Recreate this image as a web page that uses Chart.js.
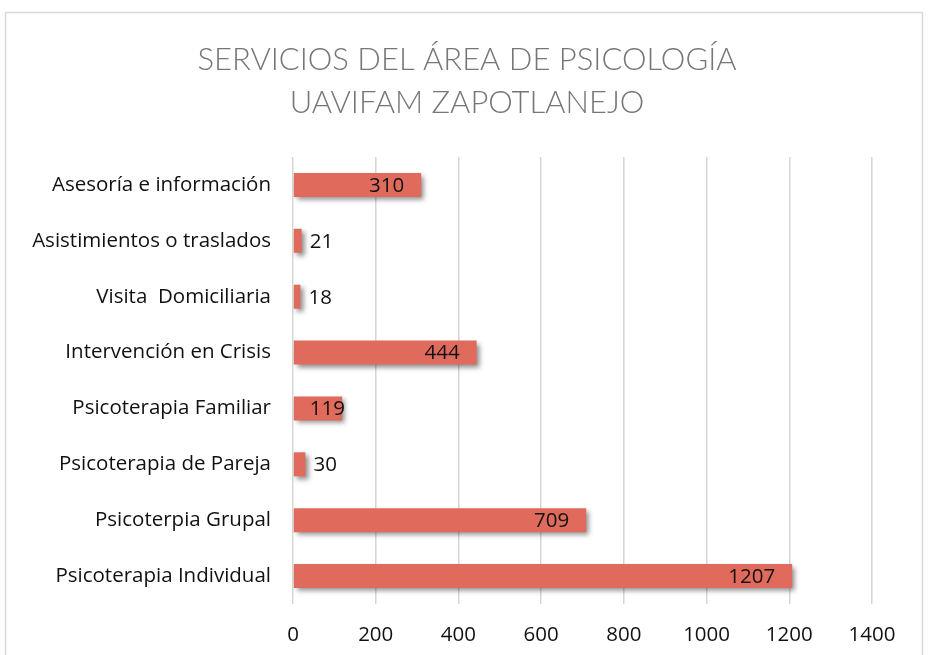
<!DOCTYPE html>
<html><head><meta charset="utf-8">
<script src="https://cdn.jsdelivr.net/npm/chart.js@4"></script>
<style>html,body{margin:0;padding:0;background:#fff}#wrap{width:928px;height:655px;position:relative}</style>
</head><body><div id="wrap"><canvas id="c" width="928" height="655"></canvas></div>
<script>
const categories = ['Asesoría e información','Asistimientos o traslados','Visita  Domiciliaria','Intervención en Crisis','Psicoterapia Familiar','Psicoterapia de Pareja','Psicoterpia Grupal','Psicoterapia Individual'];
const values = [310, 21, 18, 444, 119, 30, 709, 1207];
const titleLines = ['SERVICIOS DEL ÁREA DE PSICOLOGÍA','UAVIFAM ZAPOTLANEJO'];
const FONT = '"Open Sans", Lato, sans-serif';
const TFONT = 'Lato, "Open Sans", sans-serif';

const frame = {
  id:'frame',
  beforeDraw(chart){
    const c = chart.ctx; c.save();
    c.strokeStyle = '#d9d9d9'; c.lineWidth = 1.5;
    c.strokeRect(5.5, 12.5, 917, 700);
    c.fillStyle = '#767676'; c.font = '300 31px ' + TFONT;
    c.textAlign = 'center'; c.textBaseline = 'middle';
    titleLines.forEach((t, i) => c.fillText(t, 467, 60 + i * 43));
    c.restore();
  }
};
const shadow = {
  id:'shadow',
  beforeDatasetDraw(chart){
    const c = chart.ctx; c.save();
    c.shadowColor = 'rgba(0,0,0,0.45)'; c.shadowBlur = 5; c.shadowOffsetX = 3; c.shadowOffsetY = 3;
  },
  afterDatasetDraw(chart){ chart.ctx.restore(); }
};
const labels = {
  id:'labels',
  afterDatasetsDraw(chart){
    const c = chart.ctx; const meta = chart.getDatasetMeta(0);
    c.save(); c.font = '20.5px ' + FONT; c.fillStyle = '#111'; c.textBaseline = 'middle';
    meta.data.forEach((bar, i) => {
      const txt = String(values[i]);
      const w = c.measureText(txt).width;
      const start = bar.base, end = bar.x, len = end - start;
      let x;
      if (len < 40) { x = end + 8; }
      else { x = Math.max(end - 17 - w, start + 16); }
      c.textAlign = 'left';
      c.fillText(txt, x, bar.y + 1);
    });
    c.restore();
  }
};

new Chart(document.getElementById('c'), {
  type:'bar',
  data:{ labels: categories, datasets:[{ data: values, backgroundColor:'#E06B5D', borderWidth:0, categoryPercentage:1, barPercentage:0.43 }]},
  options:{
    indexAxis:'y', responsive:false, animation:false,
    layout:{ padding:{ left:0, right:56, top:157, bottom:0 } },
    plugins:{ legend:{display:false}, tooltip:{enabled:false}, title:{display:false} },
    scales:{
      x:{ min:0, max:1400, ticks:{ stepSize:200, color:'#111', font:{family:FONT,size:20.5}, padding:19, callback:(v)=>String(v) },
          grid:{ color:'#d6d6d6', lineWidth:1.5, drawTicks:false }, border:{display:false},
          afterFit(s){ s.height = 51; } },
      y:{ ticks:{ color:'#111', font:{family:FONT,size:20.5}, padding:22 },
          grid:{ display:false, drawTicks:false }, border:{display:false},
          afterFit(s){ s.width = 293; } }
    }
  },
  plugins:[frame, shadow, labels]
});
</script></body></html>
